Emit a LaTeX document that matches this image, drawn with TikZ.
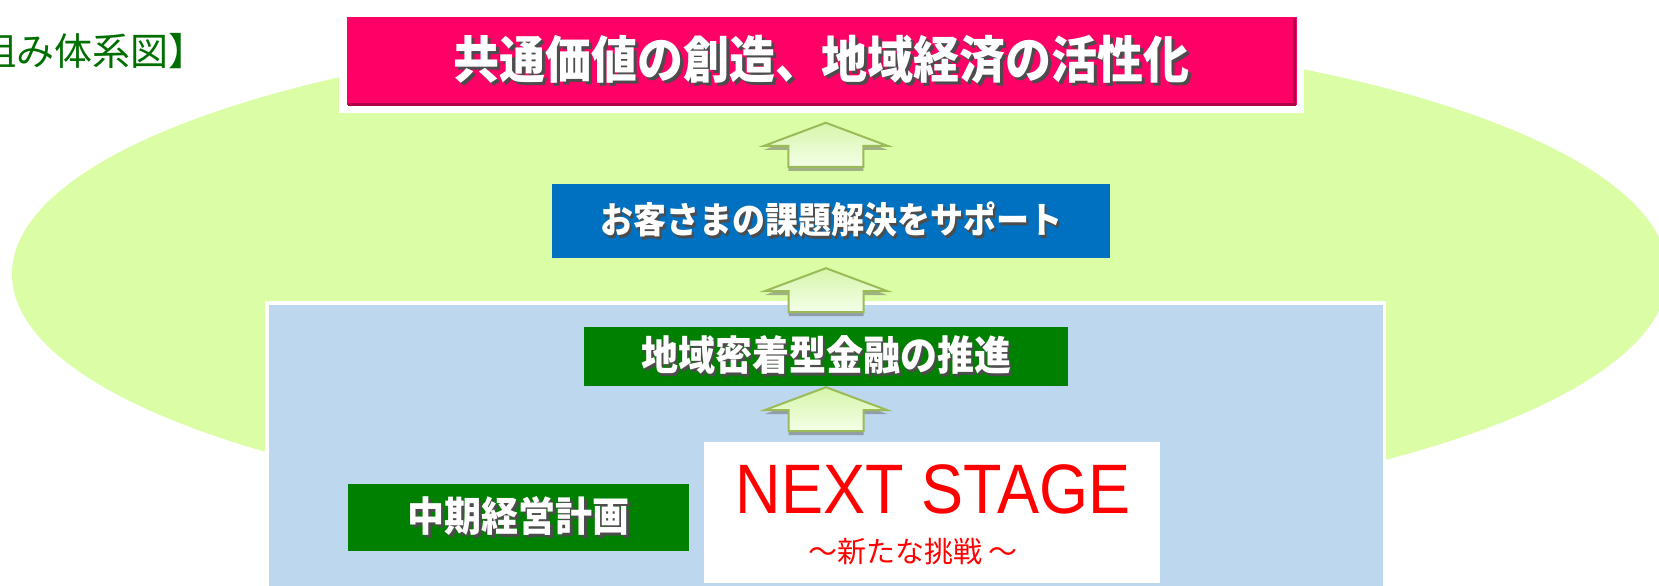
\documentclass[tikz,border=0pt]{standalone}
\usepackage{fontspec}
\newfontfamily\jpfont{Noto Sans CJK JP}
\newfontfamily\latinfont{Liberation Sans}
\usetikzlibrary{shadows}

\definecolor{fieldgreen}{RGB}{218,253,166}
\definecolor{panelblue}{RGB}{189,215,238}
\definecolor{goalpink}{RGB}{255,0,102}
\definecolor{goaldark}{RGB}{176,0,70}
\definecolor{supportblue}{RGB}{0,112,192}
\definecolor{boxgreen}{RGB}{0,128,0}
\definecolor{labelgreen}{RGB}{0,110,0}
\definecolor{arrowline}{RGB}{155,187,89}
\definecolor{arrowtop}{RGB}{214,245,170}
\definecolor{arrowbottom}{RGB}{244,255,232}

\newcommand\jpsize[1]{\fontsize{#1}{#1}\selectfont}
\newcommand\shadowed[1]{\leavevmode\scalebox{1}[1.1]{\rlap{\kern2.5pt\raisebox{-2.5pt}{\textcolor{black!70}{#1}}}#1}}

\tikzset{
  heading/.style={text=white, inner sep=0pt},
  pics/uparrow/.style={code={
    \draw[line width=2pt, draw=arrowline, top color=arrowtop, bottom color=arrowbottom,
      drop shadow={shadow xshift=0pt, shadow yshift=-4pt, opacity=0.5, fill=black!60}]
      (0,0) -- (61.5,23) -- (37.5,23) -- (37.5,44) -- (-37.5,44) -- (-37.5,23) -- (-61.5,23) -- cycle;
  }}
}

\begin{document}
\begin{tikzpicture}[x=1pt,y=-1pt]
\useasboundingbox (0,0) rectangle (1659,586);

\fill[fieldgreen] (840,274) ellipse [x radius=828pt, y radius=247pt];
\node[anchor=east, inner sep=0pt, text=labelgreen, font=\jpfont\jpsize{38}] (caption) at (207,51) {【取組み体系図】};

\node[draw=white, line width=3.5pt, fill=panelblue, anchor=north west, inner sep=0pt, outer sep=0pt,
  minimum width=1117.5pt, minimum height=300pt] (panel) at (266.75,302.75) {};

\node[heading, fill=goalpink, draw=white, line width=7.5pt, minimum width=957.5pt, minimum height=95.5pt,
  drop shadow={shadow xshift=3pt, shadow yshift=-3pt, opacity=0.3},
  font=\jpfont\bfseries\jpsize{46}] (goal) at (821.75,61.25) {\shadowed{共通価値の創造、地域経済の活性化}};
\draw[goaldark, line width=3pt] (348,104.5) -- (1294.5,104.5) -- (1294.5,18);

\node[heading, fill=supportblue, minimum width=558pt, minimum height=74pt,
  font=\jpfont\bfseries\jpsize{33}] (support) at (831,221) {\shadowed{お客さまの課題解決をサポート}};
\node[heading, fill=boxgreen, minimum width=484pt, minimum height=59pt,
  font=\jpfont\bfseries\jpsize{37}] (local) at (826,356.5) {\shadowed{地域密着型金融の推進}};
\node[heading, fill=boxgreen, minimum width=341pt, minimum height=67pt,
  font=\jpfont\bfseries\jpsize{37}] (midterm) at (518.5,517.5) {\shadowed{中期経営計画}};

\node[fill=white, inner sep=0pt, minimum width=456pt, minimum height=141pt] (stage) at (932,512.5) {};
\node[anchor=base, inner sep=0pt, text=red, font=\latinfont\jpsize{70}] (stagename) at (933,513) {\scalebox{0.9}[1]{NEXT STAGE}};
\node[inner sep=0pt, text=red, font=\jpfont\jpsize{29}] (stagesub) at (913,552) {～新たな挑戦 ～};

\path (goal.south) ++(4,10) pic {uparrow};
\path (support.south) ++(-5,10) pic {uparrow};
\path (local.south) ++(0,1) pic {uparrow};
\end{tikzpicture}
\end{document}
